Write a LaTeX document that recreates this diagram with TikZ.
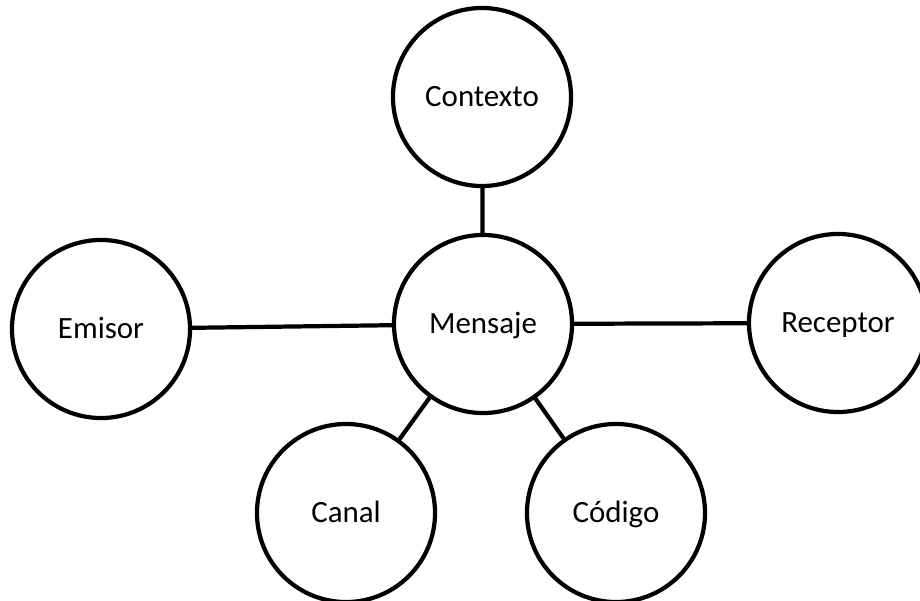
\documentclass[tikz,border=0pt]{standalone}
\usepackage{fontspec}
\setmainfont{Carlito}
\usepackage{tikz}

\begin{document}
\begin{tikzpicture}[x=0.025cm,y=-0.025cm,
  concept/.style={circle,draw=black,line width=3pt,fill=white,minimum size=4.45cm,inner sep=0pt,text height=3ex,text depth=0.3ex,font=\fontsize{22}{26}\selectfont},
  link/.style={line width=3pt}]
 \useasboundingbox (0,0) rectangle (920,600);
 \node[concept] (mensaje) at (483,324) {Mensaje};
 \node[concept] (contexto) at (482,97) {Contexto};
 \node[concept] (emisor) at (101,329) {Emisor};
 \node[concept] (receptor) at (838,323) {Receptor};
 \node[concept] (canal) at (346,513) {Canal};
 \node[concept] (codigo) at (616,513) {Código};
 \draw[link] (contexto) -- (mensaje);
 \draw[link] (emisor) -- (mensaje);
 \draw[link] (mensaje) -- (receptor);
 \draw[link] (mensaje) -- (canal);
 \draw[link] (mensaje) -- (codigo);
\end{tikzpicture}
\end{document}
